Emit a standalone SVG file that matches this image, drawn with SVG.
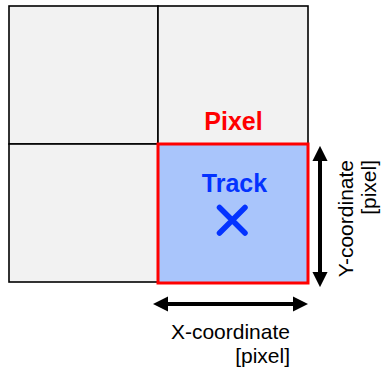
<svg xmlns="http://www.w3.org/2000/svg" width="383" height="370" viewBox="0 0 383 370">
<defs>
<style>
.cell{fill:#f2f2f2;stroke:#000;stroke-width:1.6}
.lbl{font-family:"Liberation Sans",Arial,sans-serif}
.arr{stroke:#000;stroke-width:4;fill:none}
</style>
<marker id="ah" viewBox="0 0 10 10" refX="2" refY="5" markerWidth="3.8" markerHeight="3.8" orient="auto-start-reverse" markerUnits="strokeWidth">
<path d="M0,0 L10,5 L0,10 Z" fill="#000"/>
</marker>
</defs>
<rect width="383" height="370" fill="#fff"/>
<g id="grid">
<rect class="cell" x="9" y="6" width="149" height="138"/>
<rect class="cell" x="158" y="6" width="150" height="138"/>
<rect class="cell" x="9" y="144" width="149" height="138"/>
</g>
<g id="pixel">
<rect x="158" y="144" width="150" height="139" fill="#a9c5fb" stroke="#ff0000" stroke-width="3"/>
<text class="lbl" x="233.5" y="130" font-size="25" font-weight="bold" fill="#ff0000" text-anchor="middle">Pixel</text>
</g>
<g id="track">
<text class="lbl" x="234.5" y="191.5" font-size="25" font-weight="bold" fill="#0433ff" text-anchor="middle">Track</text>
<path d="M219.5,207.5 L245,233 M245,207.5 L219.5,233" stroke="#0433ff" stroke-width="5.5" stroke-linecap="round"/>
</g>
<g id="connectors">
<line class="arr" x1="320" y1="158" x2="320" y2="275" marker-start="url(#ah)" marker-end="url(#ah)"/>
<line class="arr" x1="165" y1="304" x2="296" y2="304" marker-start="url(#ah)" marker-end="url(#ah)"/>
</g>
<g id="xlabel">
<text class="lbl" font-size="21" fill="#000" text-anchor="end"><tspan x="290" y="339">X-coordinate</tspan><tspan x="290" y="363">[pixel]</tspan></text>
</g>
<g id="ylabel">
<text class="lbl" font-size="21" fill="#000" text-anchor="end" transform="translate(353,160) rotate(-90)"><tspan x="0" y="0">Y-coordinate</tspan><tspan x="0" y="23">[pixel]</tspan></text>
</g>
</svg>
